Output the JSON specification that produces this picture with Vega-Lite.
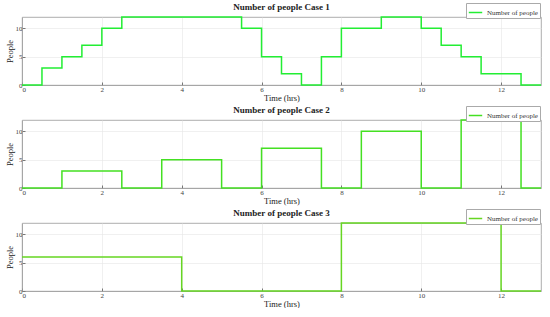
{
  "$schema": "https://vega.github.io/schema/vega-lite/v6.json",
  "padding": {"left": 4, "top": 2, "right": 4, "bottom": 0},
  "spacing": 3,
  "datasets": {
    "people": [
      {"case": 1, "t": 0, "people": 0, "series": "Number of people"},
      {"case": 1, "t": 0.5, "people": 3, "series": "Number of people"},
      {"case": 1, "t": 1, "people": 5, "series": "Number of people"},
      {"case": 1, "t": 1.5, "people": 7, "series": "Number of people"},
      {"case": 1, "t": 2, "people": 10, "series": "Number of people"},
      {"case": 1, "t": 2.5, "people": 12, "series": "Number of people"},
      {"case": 1, "t": 5.5, "people": 10, "series": "Number of people"},
      {"case": 1, "t": 6, "people": 5, "series": "Number of people"},
      {"case": 1, "t": 6.5, "people": 2, "series": "Number of people"},
      {"case": 1, "t": 7, "people": 0, "series": "Number of people"},
      {"case": 1, "t": 7.5, "people": 5, "series": "Number of people"},
      {"case": 1, "t": 8, "people": 10, "series": "Number of people"},
      {"case": 1, "t": 9, "people": 12, "series": "Number of people"},
      {"case": 1, "t": 10, "people": 10, "series": "Number of people"},
      {"case": 1, "t": 10.5, "people": 7, "series": "Number of people"},
      {"case": 1, "t": 11, "people": 5, "series": "Number of people"},
      {"case": 1, "t": 11.5, "people": 2, "series": "Number of people"},
      {"case": 1, "t": 12.5, "people": 0, "series": "Number of people"},
      {"case": 1, "t": 13, "people": 0, "series": "Number of people"},
      {"case": 2, "t": 0, "people": 0, "series": "Number of people"},
      {"case": 2, "t": 1, "people": 3, "series": "Number of people"},
      {"case": 2, "t": 2.5, "people": 0, "series": "Number of people"},
      {"case": 2, "t": 3.5, "people": 5, "series": "Number of people"},
      {"case": 2, "t": 5, "people": 0, "series": "Number of people"},
      {"case": 2, "t": 6, "people": 7, "series": "Number of people"},
      {"case": 2, "t": 7.5, "people": 0, "series": "Number of people"},
      {"case": 2, "t": 8.5, "people": 10, "series": "Number of people"},
      {"case": 2, "t": 10, "people": 0, "series": "Number of people"},
      {"case": 2, "t": 11, "people": 12, "series": "Number of people"},
      {"case": 2, "t": 12.5, "people": 0, "series": "Number of people"},
      {"case": 2, "t": 13, "people": 0, "series": "Number of people"},
      {"case": 3, "t": 0, "people": 6, "series": "Number of people"},
      {"case": 3, "t": 4, "people": 0, "series": "Number of people"},
      {"case": 3, "t": 8, "people": 12, "series": "Number of people"},
      {"case": 3, "t": 12, "people": 0, "series": "Number of people"},
      {"case": 3, "t": 13, "people": 0, "series": "Number of people"}
    ]
  },
  "config": {
    "font": "Liberation Serif",
    "view": {"stroke": "#999999", "strokeWidth": 0.8},
    "title": {"fontSize": 9, "fontWeight": "bold", "color": "#222222", "offset": -9, "anchor": "middle"},
    "axis": {
      "labelFont": "Liberation Serif", "labelFontSize": 7, "labelColor": "#444444",
      "titleFont": "Liberation Serif", "titleFontSize": 8.5, "titleFontWeight": "normal", "titleColor": "#222222",
      "gridColor": "#e6e6e6", "gridWidth": 0.6, "domainColor": "#999999", "domainWidth": 0.8,
      "tickColor": "#777777", "tickSize": -3, "labelPadding": 3, "titlePadding": 1
    },
    "legend": {
      "orient": "none", "legendX": 444, "legendY": -14,
      "strokeColor": "#aaaaaa", "fillColor": "white", "padding": 2,
      "labelFont": "Liberation Serif", "labelFontSize": 7, "labelColor": "#333333",
      "symbolType": "stroke", "symbolSize": 180, "symbolStrokeWidth": 1.5, "title": null
    }
  },
  "resolve": {"scale": {"color": "independent"}, "legend": {"color": "independent"}},
  "vconcat": [
    {
      "title": "Number of people Case 1",
      "width": 519, "height": 68,
      "data": {"name": "people"},
      "transform": [{"filter": "datum.case == 1"}],
      "mark": {"type": "line", "interpolate": "step-after", "strokeWidth": 1.5},
      "encoding": {
        "x": {"field": "t", "type": "quantitative", "scale": {"domain": [0, 13], "nice": false}, "axis": {"values": [0, 2, 4, 6, 8, 10, 12], "title": "Time (hrs)"}},
        "y": {"field": "people", "type": "quantitative", "scale": {"domain": [0, 12], "nice": false}, "axis": {"values": [0, 5, 10], "title": "People"}},
        "color": {"field": "series", "type": "nominal", "scale": {"range": ["#22ee33"]}}
      }
    },
    {
      "title": "Number of people Case 2",
      "width": 519, "height": 68,
      "data": {"name": "people"},
      "transform": [{"filter": "datum.case == 2"}],
      "mark": {"type": "line", "interpolate": "step-after", "strokeWidth": 1.5},
      "encoding": {
        "x": {"field": "t", "type": "quantitative", "scale": {"domain": [0, 13], "nice": false}, "axis": {"values": [0, 2, 4, 6, 8, 10, 12], "title": "Time (hrs)"}},
        "y": {"field": "people", "type": "quantitative", "scale": {"domain": [0, 12], "nice": false}, "axis": {"values": [0, 5, 10], "title": "People"}},
        "color": {"field": "series", "type": "nominal", "scale": {"range": ["#44e022"]}}
      }
    },
    {
      "title": "Number of people Case 3",
      "width": 519, "height": 68,
      "data": {"name": "people"},
      "transform": [{"filter": "datum.case == 3"}],
      "mark": {"type": "line", "interpolate": "step-after", "strokeWidth": 1.5},
      "encoding": {
        "x": {"field": "t", "type": "quantitative", "scale": {"domain": [0, 13], "nice": false}, "axis": {"values": [0, 2, 4, 6, 8, 10, 12], "title": "Time (hrs)"}},
        "y": {"field": "people", "type": "quantitative", "scale": {"domain": [0, 12], "nice": false}, "axis": {"values": [0, 5, 10], "title": "People"}},
        "color": {"field": "series", "type": "nominal", "scale": {"range": ["#66d622"]}}
      }
    }
  ]
}
